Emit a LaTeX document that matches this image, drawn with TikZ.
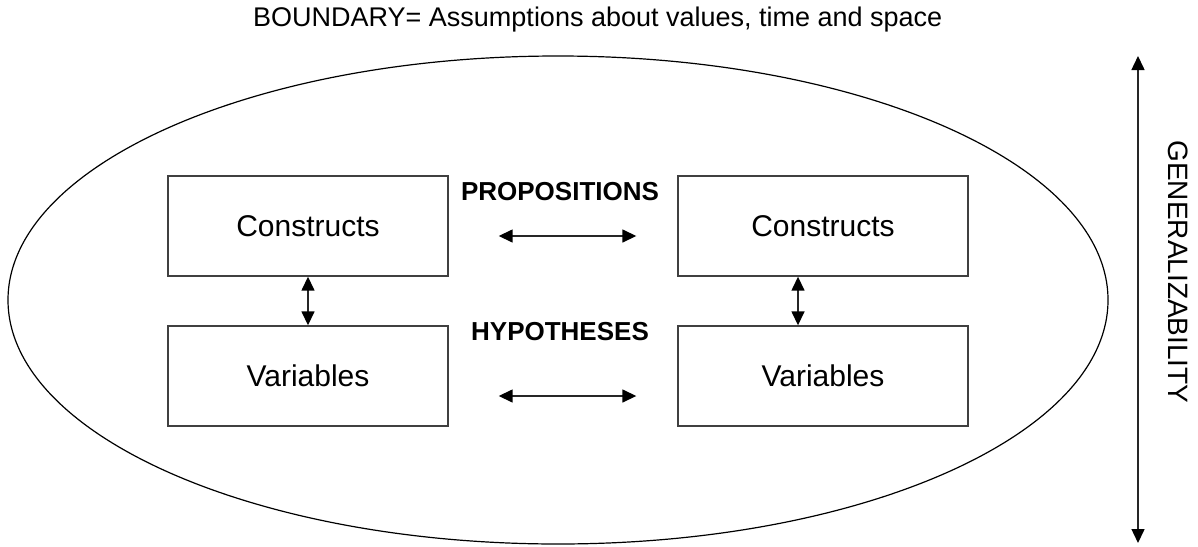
\documentclass[tikz,border=0pt]{standalone}
\usepackage{fontspec}
\setmainfont{Liberation Sans}
\usetikzlibrary{arrows.meta,calc}
\begin{document}
\begin{tikzpicture}[x=1pt,y=-1pt,
  boxstyle/.style={draw=black!75,line width=1.4pt,inner sep=0pt,minimum height=100pt,
    font=\fontsize{30}{34}\selectfont},
  labelstyle/.style={inner sep=0pt,font=\fontsize{26}{30}\selectfont\bfseries},
  biarrow/.style={line width=1.5pt,draw=black!85,{Triangle[length=14pt,width=13pt,color=black]}-{Triangle[length=14pt,width=13pt,color=black]}},
  plaintext/.style={inner sep=0pt,font=\fontsize{28}{32}\selectfont}]
\useasboundingbox (0,0) rectangle (1198,546);
% title
\node[plaintext,font=\fontsize{27}{31}\selectfont,anchor=base west] (title) at (253,27) {BOUNDARY= Assumptions about values, time and space};
% boundary ellipse
\draw[line width=1.2pt] (558,300) ellipse [x radius=550, y radius=244];
% boxes
\node[boxstyle,minimum width=280pt] (c1) at (308,226) {Constructs};
\node[boxstyle,minimum width=280pt] (v1) at (308,376) {Variables};
\node[boxstyle,minimum width=290pt] (c2) at (823,226) {Constructs};
\node[boxstyle,minimum width=290pt] (v2) at (823,376) {Variables};
% labels between the columns
\node[labelstyle] (prop) at (560,192) {PROPOSITIONS};
\node[labelstyle] (hyp) at (560,332) {HYPOTHESES};
% links
\draw[biarrow] (c1.south) -- (v1.north);
\draw[biarrow] ($(c2.south)+(-25,0)$) -- ($(v2.north)+(-25,0)$);
\draw[biarrow] ($(c1.east)+(50,10)$) -- ($(c2.west)+(-41,10)$);
\draw[biarrow] ($(v1.east)+(50,20)$) -- ($(v2.west)+(-41,20)$);
% generalizability axis
\coordinate (gtop) at (1138,56);
\coordinate (gbot) at (1138,543);
\draw[biarrow] (gtop) -- (gbot);
\node[plaintext,rotate=-90] (gen) at (1178,272) {GENERALIZABILITY};
\end{tikzpicture}
\end{document}
